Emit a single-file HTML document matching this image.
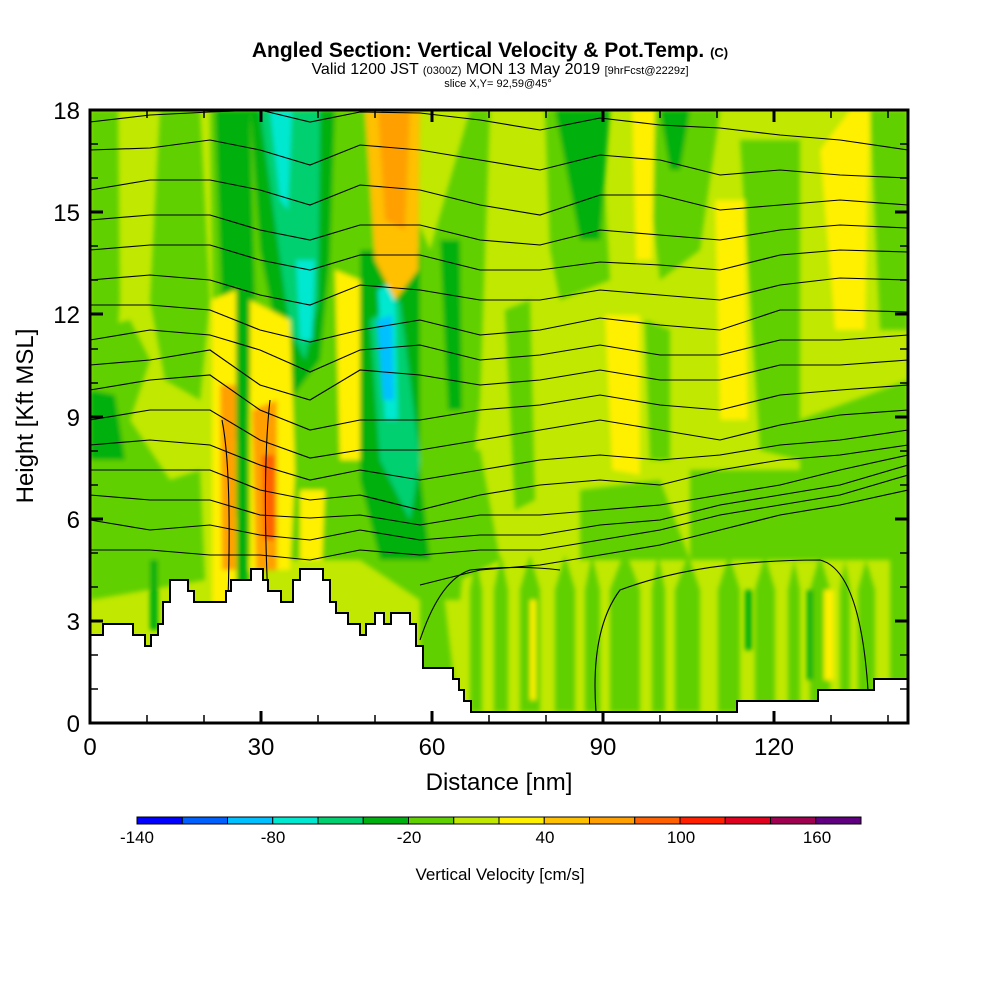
<!DOCTYPE html>
<html><head><meta charset="utf-8"><style>
html,body{margin:0;padding:0;background:#fff;}
svg{display:block;font-family:"Liberation Sans",sans-serif;}
</style></head><body>
<svg width="1000" height="1000" viewBox="0 0 1000 1000" xmlns="http://www.w3.org/2000/svg">
<defs><clipPath id="pc"><rect x="90" y="110" width="818" height="613"/></clipPath>
<filter id="bl"><feGaussianBlur stdDeviation="2.5"/></filter></defs>
<text x="490" y="57" text-anchor="middle" font-size="21" font-weight="bold">Angled Section: Vertical Velocity &amp; Pot.Temp. <tspan font-size="13">(C)</tspan></text>
<text x="500" y="74" text-anchor="middle" font-size="16">Valid 1200 JST <tspan font-size="11">(0300Z)</tspan> MON 13 May 2019 <tspan font-size="11">[9hrFcst@2229z]</tspan></text>
<text x="498" y="87" text-anchor="middle" font-size="11">slice X,Y= 92,59@45°</text>
<g clip-path="url(#pc)">
<rect x="90" y="110" width="818" height="613" fill="#c0e800"/>
<g filter="url(#bl)">
<polygon fill="#60d000" points="90,110 118,110 120,300 110,430 90,440"/>
<polygon fill="#60d000" points="90,330 130,320 150,360 130,420 170,480 200,470 205,580 90,600"/>
<polygon fill="#60d000" points="160,110 200,110 210,300 200,400 165,380 150,300"/>
<polygon fill="#60d000" points="210,110 370,110 430,250 470,110 490,110 480,400 460,600 420,600 360,560 300,560 250,560 215,450"/>
<polygon fill="#60d000" points="420,450 480,450 500,560 420,600"/>
<polygon fill="#60d000" points="580,490 660,480 690,560 580,560"/>
<polygon fill="#60d000" points="690,470 800,470 820,560 690,560"/>
<polygon fill="#60d000" points="800,420 908,380 908,560 800,560"/>
<polygon fill="#60d000" points="890,560 908,560 908,690 890,690"/>
<polygon fill="#60d000" points="420,600 440,560 455,690 420,690"/>
<polygon fill="#60d000" points="470,712 470,590 476,560 482,590 482,712"/>
<polygon fill="#60d000" points="494,712 494,590 501,555 508,590 508,712"/>
<polygon fill="#60d000" points="520,712 520,590 530,555 540,590 540,712"/>
<polygon fill="#60d000" points="555,712 555,590 565,555 575,590 575,712"/>
<polygon fill="#60d000" points="585,712 585,590 592,555 600,590 600,712"/>
<polygon fill="#60d000" points="610,712 610,590 625,550 640,590 640,712"/>
<polygon fill="#60d000" points="652,712 652,590 658,555 665,590 665,712"/>
<polygon fill="#60d000" points="675,712 675,590 688,555 700,590 700,712"/>
<polygon fill="#60d000" points="718,712 718,590 729,555 740,590 740,712"/>
<polygon fill="#60d000" points="755,712 755,590 765,555 775,590 775,712"/>
<polygon fill="#60d000" points="788,712 788,590 794,560 800,590 800,712"/>
<polygon fill="#60d000" points="810,712 810,590 820,555 830,590 830,712"/>
<polygon fill="#60d000" points="840,712 840,590 845,560 850,590 850,712"/>
<polygon fill="#60d000" points="858,712 858,590 866,560 875,590 875,712"/>
<polygon fill="#60d000" points="545,110 600,110 610,280 560,300 550,250"/>
<polygon fill="#60d000" points="640,110 720,110 700,250 660,280"/>
<polygon fill="#60d000" points="740,140 800,140 800,460 760,450"/>
<polygon fill="#60d000" points="870,110 908,110 908,330 880,330"/>
<polygon fill="#60d000" points="505,310 530,300 535,500 515,510"/>
<polygon fill="#60d000" points="645,320 670,330 670,460 650,460"/>
<polygon fill="#60d000" points="93,500 115,530 105,560 93,560"/>
<polygon fill="#00b010" points="215,110 250,110 255,300 245,470 225,400"/>
<polygon fill="#00b010" points="250,110 335,110 330,260 320,360 290,400 260,250"/>
<polygon fill="#00b010" points="360,250 420,250 420,470 430,560 380,560 360,480"/>
<polygon fill="#00b010" points="440,240 460,240 462,410 448,410"/>
<polygon fill="#00b010" points="555,110 610,110 600,240 580,240"/>
<polygon fill="#00b010" points="660,110 690,110 680,170 670,170"/>
<polygon fill="#00b010" points="90,390 115,395 125,460 90,460"/>
<polygon fill="#00b010" points="237,390 248,390 248,600 237,600"/>
<polygon fill="#00d070" points="260,110 320,110 318,300 305,360 290,330"/>
<polygon fill="#00d070" points="370,320 400,300 420,460 410,520 380,460"/>
<polygon fill="#00e8d0" points="270,110 292,110 288,210 280,200"/>
<polygon fill="#00e8d0" points="296,260 315,260 312,340 300,340"/>
<polygon fill="#00e8d0" points="378,290 395,280 398,420 385,420"/>
<polygon fill="#00c0ff" points="377,320 392,315 394,400 383,400"/>
<polygon fill="#fff000" points="212,300 236,290 236,600 225,700 212,600"/>
<polygon fill="#fff000" points="250,300 290,320 295,470 290,570 250,570"/>
<polygon fill="#fff000" points="335,270 360,280 360,460 340,460"/>
<polygon fill="#fff000" points="605,315 640,315 640,475 612,470"/>
<polygon fill="#fff000" points="715,200 745,200 748,420 720,420"/>
<polygon fill="#fff000" points="820,150 850,110 870,110 865,330 835,330"/>
<polygon fill="#fff000" points="632,110 655,110 652,260 636,260"/>
<polygon fill="#fff000" points="300,490 325,490 322,560 300,560"/>
<polygon fill="#fff000" points="530,600 536,600 536,700 530,700"/>
<polygon fill="#fff000" points="824,590 834,590 834,680 824,680"/>
<polygon fill="#ffc000" points="365,110 420,110 418,270 395,300 375,260"/>
<polygon fill="#ffa000" points="378,110 410,110 405,230 385,220"/>
<polygon fill="#ffa000" points="220,385 236,385 236,570 222,570"/>
<polygon fill="#ffa000" points="252,410 277,400 277,570 256,570"/>
<polygon fill="#ff6000" points="262,455 275,455 275,540 264,540"/>
<polygon fill="#00b010" points="745,590 752,590 752,650 745,650"/>
<polygon fill="#00b010" points="807,590 813,590 813,680 807,680"/>
<polygon fill="#00b010" points="150,560 158,560 158,630 150,630"/>
</g>
<g fill="none" stroke="#000" stroke-width="1.1">
<polyline points="90,122 150,115 210,112 260,110 310,122 360,112 420,113 480,120 540,130 600,118 660,125 720,128 780,135 840,140 908,150"/>
<polyline points="90,150 150,148 210,140 260,150 310,165 360,145 420,150 480,160 540,170 600,155 660,160 720,175 780,170 840,175 908,178"/>
<polyline points="90,190 150,180 210,180 260,190 310,205 360,185 420,190 480,205 540,215 600,195 660,195 720,210 780,205 840,200 908,205"/>
<polyline points="90,220 150,215 210,215 260,230 310,240 360,225 420,225 480,240 540,245 600,230 660,235 720,240 780,230 840,225 908,228"/>
<polyline points="90,250 150,245 210,245 260,260 310,270 360,255 420,255 480,270 540,270 600,262 660,265 720,270 780,255 840,250 908,252"/>
<polyline points="90,280 150,275 210,280 260,295 310,305 360,285 420,290 480,300 540,300 600,290 660,295 720,300 780,285 840,278 908,280"/>
<polyline points="90,305 150,305 210,310 260,330 310,342 360,330 420,320 480,335 540,330 600,318 660,325 720,330 780,310 840,310 908,312"/>
<polyline points="90,340 150,330 210,335 260,350 310,372 360,350 420,345 480,360 540,355 600,345 660,355 720,355 780,340 840,340 908,335"/>
<polyline points="90,365 150,360 210,350 260,385 310,400 360,370 420,375 480,385 540,380 600,370 660,380 720,380 780,365 840,365 908,360"/>
<polyline points="90,390 150,380 210,375 260,410 310,430 360,420 420,420 480,410 540,405 600,395 660,405 720,410 780,395 840,390 908,385"/>
<polyline points="90,420 150,410 210,410 260,440 310,458 360,450 420,450 480,440 540,430 600,420 660,430 720,440 780,425 840,415 908,410"/>
<polyline points="90,445 150,440 210,445 260,465 310,480 360,470 420,480 480,470 540,460 600,455 660,460 720,455 780,445 840,440 908,430"/>
<polyline points="90,470 150,470 210,470 260,490 310,500 360,495 420,510 480,495 540,485 600,480 660,485 720,470 780,460 840,455 908,445"/>
<polyline points="90,495 150,500 210,500 260,515 310,518 360,515 420,525 480,515 540,515 600,510 660,505 720,495 780,485 840,470 908,455"/>
<polyline points="90,520 150,530 210,525 260,535 310,540 360,530 420,540 480,535 540,535 600,525 660,520 720,505 780,495 840,485 908,465"/>
<polyline points="90,550 150,550 210,555 260,555 310,560 360,550 420,555 480,550 540,550 600,540 660,530 720,515 780,505 840,495 908,475"/>
<polyline points="420,585 480,570 540,565 600,555 660,545 720,530 780,515 840,505 908,490"/>
<path d="M222,420 Q232,470 228,600"/><path d="M270,400 Q262,470 268,600"/>
<path d="M596,712 Q590,630 620,590 Q700,560 820,560 Q860,570 868,690"/>
<path d="M420,640 Q440,580 470,570 Q520,565 560,570"/>
</g>
<polygon fill="#fff" stroke="#000" stroke-width="2" points="90,723 90,635 103,635 103,624 133,624 133,635 145,635 145,646 151,646 151,635 158,635 158,624 163,624 163,602 170,602 170,580 188,580 188,591 194,591 194,602 226,602 226,591 231,591 231,580 251,580 251,569 263,569 263,580 268,580 268,591 281,591 281,602 293,602 293,580 300,580 300,569 323,569 323,580 330,580 330,602 336,602 336,613 348,613 348,624 360,624 360,635 366,635 366,624 375,624 375,613 384,613 384,624 391,624 391,613 410,613 410,624 416,624 416,646 423,646 423,668 453,668 453,679 459,679 459,690 464,690 464,701 471,701 471,712 737,712 737,701 818,701 818,690 874,690 874,679 908,679 908,723"/>
</g>
<g stroke="#000" stroke-width="1.5">
<path d="M147,723v-8M204,723v-8M318,723v-8M375,723v-8M489,723v-8M546,723v-8M660,723v-8M717,723v-8M831,723v-8M888,723v-8"/>
<path d="M147,110v8M204,110v8M318,110v8M375,110v8M489,110v8M546,110v8M660,110v8M717,110v8M831,110v8M888,110v8"/>
<path d="M90,689h8M90,655h8M90,587h8M90,553h8M90,485h8M90,451h8M90,383h8M90,349h8M90,280h8M90,246h8M90,178h8M90,144h8"/>
<path d="M908,689h-8M908,655h-8M908,587h-8M908,553h-8M908,485h-8M908,451h-8M908,383h-8M908,349h-8M908,280h-8M908,246h-8M908,178h-8M908,144h-8"/>
</g>
<g stroke="#000" stroke-width="3">
<path d="M261,723v-12M432,723v-12M603,723v-12M774,723v-12M261,110v12M432,110v12M603,110v12M774,110v12"/>
<path d="M90,621h13M90,519h13M90,417h13M90,314h13M90,212h13M908,621h-13M908,519h-13M908,417h-13M908,314h-13M908,212h-13"/>
</g>
<rect x="90" y="110" width="818" height="613" fill="none" stroke="#000" stroke-width="3"/>
<g font-size="24" text-anchor="end">
<text x="80" y="732">0</text><text x="80" y="630">3</text><text x="80" y="528">6</text><text x="80" y="426">9</text><text x="80" y="323">12</text><text x="80" y="221">15</text><text x="80" y="119">18</text>
</g>
<g font-size="24" text-anchor="middle">
<text x="90" y="755">0</text><text x="261" y="755">30</text><text x="432" y="755">60</text><text x="603" y="755">90</text><text x="774" y="755">120</text>
<text x="499" y="790">Distance [nm]</text>
<text transform="translate(33,416) rotate(-90)">Height [Kft MSL]</text>
</g>
<g stroke="#000" stroke-width="1">
<rect x="137" y="817" width="45.25" height="7" fill="#0000ff"/><rect x="182.25" y="817" width="45.25" height="7" fill="#0060ff"/><rect x="227.5" y="817" width="45.25" height="7" fill="#00c0ff"/><rect x="272.75" y="817" width="45.25" height="7" fill="#00e8d0"/><rect x="318" y="817" width="45.25" height="7" fill="#00d070"/><rect x="363.25" y="817" width="45.25" height="7" fill="#00b010"/><rect x="408.5" y="817" width="45.25" height="7" fill="#60d000"/><rect x="453.75" y="817" width="45.25" height="7" fill="#c0e800"/><rect x="499" y="817" width="45.25" height="7" fill="#fff000"/><rect x="544.25" y="817" width="45.25" height="7" fill="#ffc000"/><rect x="589.5" y="817" width="45.25" height="7" fill="#ffa000"/><rect x="634.75" y="817" width="45.25" height="7" fill="#ff6000"/><rect x="680" y="817" width="45.25" height="7" fill="#ff2000"/><rect x="725.25" y="817" width="45.25" height="7" fill="#e00020"/><rect x="770.5" y="817" width="45.25" height="7" fill="#a00050"/><rect x="815.75" y="817" width="45.25" height="7" fill="#600080"/>
</g>
<g font-size="17" text-anchor="middle">
<text x="137" y="843">-140</text><text x="273" y="843">-80</text><text x="409" y="843">-20</text><text x="545" y="843">40</text><text x="681" y="843">100</text><text x="817" y="843">160</text>
<text x="500" y="880">Vertical Velocity [cm/s]</text>
</g>
</svg>
</body></html>
